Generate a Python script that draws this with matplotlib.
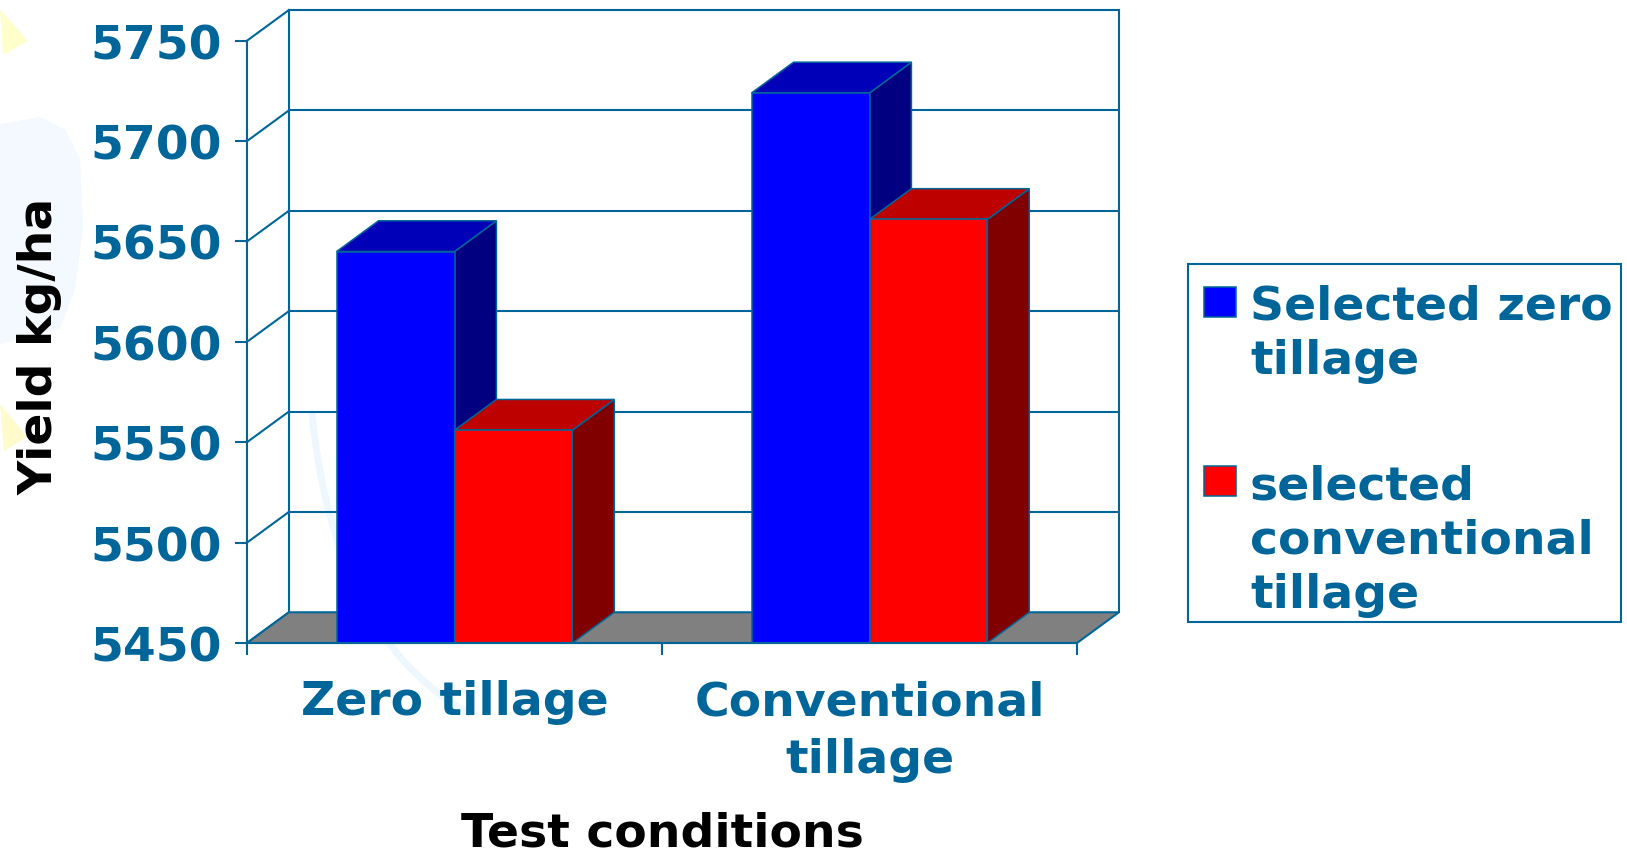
import matplotlib.pyplot as plt
from matplotlib.patches import Polygon, Rectangle
import numpy as np

# DATA
categories = ['Zero tillage', 'Conventional\ntillage']
series_labels = ['Selected zero\ntillage', 'selected\nconventional\ntillage']
selected_zero = [5645, 5724]
selected_conv = [5556, 5661]
y_ticks = [5450, 5500, 5550, 5600, 5650, 5700, 5750]

# COLORS
TEAL = '#006699'
front_colors = ['#0000ff', '#ff0000']
top_colors = ['#0000b8', '#bd0000']
side_colors = ['#000080', '#800000']
FLOOR = '#808080'

plt.rcParams['font.family'] = 'DejaVu Sans'
plt.rcParams['font.weight'] = 'bold'
FS = 34

W, H = 1627, 854
fig = plt.figure(figsize=(W / 100, H / 100), dpi=100, facecolor='white')


# pixel position (from top-left) -> figure fraction
def fx(x):
    return np.asarray(x) / W


def fy(y):
    return 1 - np.asarray(y) / H


# faint slide decoration in the background
fig.add_artist(Polygon([(fx(0), fy(10)), (fx(28), fy(42)), (fx(3), fy(56))],
                       closed=True, fc='#ffffcc', ec='none', transform=fig.transFigure, zorder=0))
fig.add_artist(Polygon([(fx(0), fy(405)), (fx(27), fy(438)), (fx(4), fy(452))],
                       closed=True, fc='#fffbcc', ec='none', transform=fig.transFigure, zorder=0))
blob = [(0, 125), (40, 118), (65, 130), (80, 160), (83, 230), (75, 290), (60, 330), (0, 345)]
fig.add_artist(Polygon([(fx(a), fy(b)) for a, b in blob], closed=True, fc='#f3f9fe',
                       ec='none', transform=fig.transFigure, zorder=0))
# faint swoosh, mostly hidden behind the first bar
t = np.linspace(0, 1, 50)
sw_x = (1 - t) ** 2 * 312 + 2 * t * (1 - t) * 335 + t ** 2 * 470
sw_y = (1 - t) ** 2 * 415 + 2 * t * (1 - t) * 640 + t ** 2 * 715
fig.add_artist(plt.Line2D(fx(sw_x), fy(sw_y), color='#eef7fd', lw=5,
                          transform=fig.transFigure, zorder=0, solid_capstyle='round'))

# AXES (front plane of the 3D box)
ax = fig.add_axes([fx(247), fy(644), (1077 - 247) / W, (644 - 41.7) / H])
ax.set_xlim(0, len(categories))
ax.set_ylim(y_ticks[0], y_ticks[-1])
ax.patch.set_visible(False)
for s in ['top', 'right']:
    ax.spines[s].set_visible(False)
for s in ['left', 'bottom']:
    ax.spines[s].set_color(TEAL)
    ax.spines[s].set_linewidth(1.5)
    ax.spines[s].set_zorder(10)

# depth of the box in data units
dx, dy = 0.101, 15.3
n = len(categories)
ymin, ymax = y_ticks[0], y_ticks[-1]
line_kw = dict(color=TEAL, lw=1.5, clip_on=False)

# back wall, side wall edges and gridlines
for tk in y_ticks:
    ax.plot([0, dx], [tk, tk + dy], zorder=1, **line_kw)
    if tk > ymin:
        ax.plot([dx, n + dx], [tk + dy, tk + dy], zorder=1, **line_kw)
ax.plot([dx, dx], [ymin + dy, ymax + dy], zorder=1, **line_kw)
ax.plot([n + dx, n + dx], [ymin + dy, ymax + dy], zorder=1, **line_kw)

# floor
ax.add_patch(Polygon([(0, ymin), (n, ymin), (n + dx, ymin + dy), (dx, ymin + dy)],
                     closed=True, fc=FLOOR, ec=TEAL, lw=1.5, clip_on=False, zorder=2))

# 3D bars
bar_w = 0.284
z = 3
for i in range(n):
    for j, vals in enumerate([selected_zero, selected_conv]):
        v = vals[i]
        x0 = i + 0.5 - bar_w + j * bar_w
        x1 = x0 + bar_w
        side = Polygon([(x1, ymin), (x1 + dx, ymin + dy), (x1 + dx, v + dy), (x1, v)],
                       closed=True, fc=side_colors[j], ec=TEAL, lw=1.1, clip_on=False, zorder=z)
        top = Polygon([(x0, v), (x1, v), (x1 + dx, v + dy), (x0 + dx, v + dy)],
                      closed=True, fc=top_colors[j], ec=TEAL, lw=1.1, clip_on=False, zorder=z)
        front = Rectangle((x0, ymin), bar_w, v - ymin, fc=front_colors[j], ec=TEAL,
                          lw=1.1, clip_on=False, zorder=z + 0.5)
        ax.add_patch(side)
        ax.add_patch(top)
        ax.add_patch(front)
        z += 1

# ticks and labels
ax.set_yticks(y_ticks)
ax.tick_params(axis='y', length=8.6, width=1.5, color=TEAL, pad=9.4,
               labelsize=FS, labelcolor=TEAL)
ax.set_xticks(range(n + 1), [''] * (n + 1))
ax.tick_params(axis='x', which='major', length=8.6, width=1.5, color=TEAL)
ax.set_xticks(np.arange(n) + 0.5, categories, minor=True)
ax.tick_params(axis='x', which='minor', length=0, pad=26, labelsize=FS, labelcolor=TEAL)
for lbl in ax.get_xticklabels(minor=True):
    lbl.set_linespacing(1.38)

fig.text(fx(662), fy(847), 'Test conditions', ha='center', va='baseline',
         fontsize=FS, color='black')
fig.text(fx(40), fy(346), 'Yield kg/ha', rotation=90, ha='center', va='center',
         fontsize=FS, color='black')

# LEGEND
fig.add_artist(Rectangle((fx(1188), fy(623)), (1621 - 1188) / W, (623 - 265) / H,
                         fc='white', ec=TEAL, lw=1.5, transform=fig.transFigure))
legend_tops = [288, 467]
for j, lab in enumerate(series_labels):
    top_px = legend_tops[j]
    fig.add_artist(Rectangle((fx(1204), fy(top_px + 30)), 32 / W, 30 / H,
                             fc=front_colors[j], ec=TEAL, lw=1.1, transform=fig.transFigure))
    fig.text(fx(1250), fy(top_px - 3), lab, ha='left', va='top', fontsize=FS,
             color=TEAL, linespacing=1.27)

fig.savefig('out.png', dpi=100, facecolor='white')
